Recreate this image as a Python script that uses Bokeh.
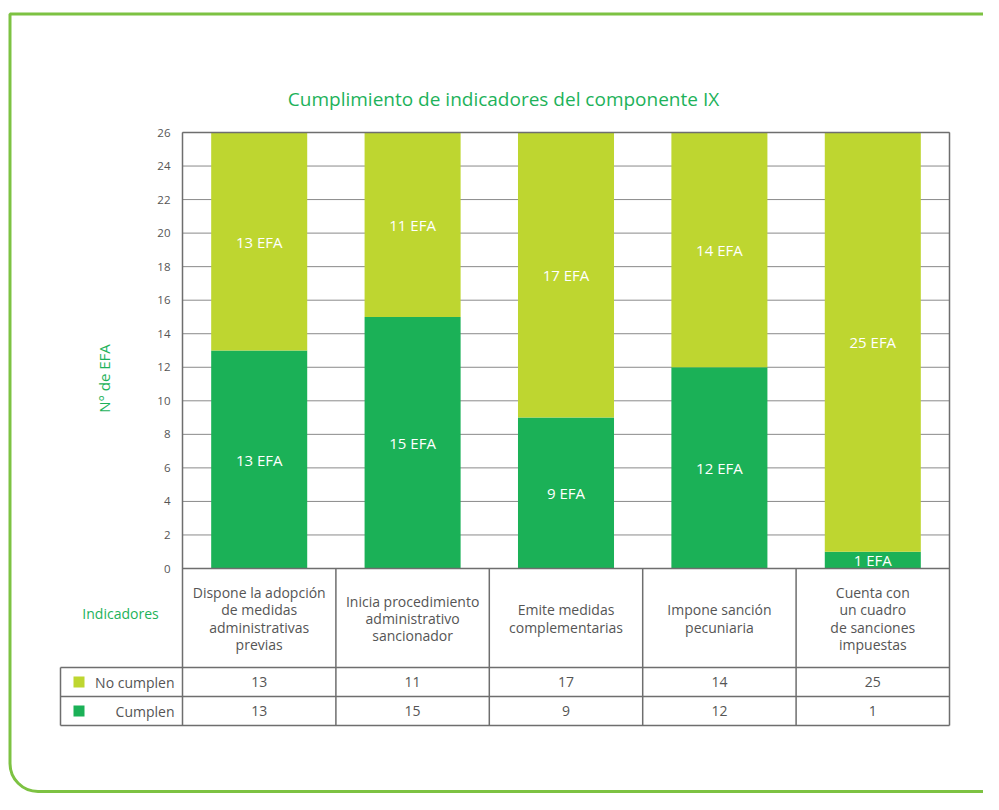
from bokeh.plotting import figure
from bokeh.models import ColumnDataSource, Range1d, BoxAnnotation, Label
from bokeh.core.properties import value
from bokeh.embed import file_html
from bokeh.resources import INLINE
import math

# ---------------- data ----------------
categories = [
    "Dispone la adopción\nde medidas\nadministrativas\nprevias",
    "Inicia procedimiento\nadministrativo\nsancionador",
    "Emite medidas\ncomplementarias",
    "Impone sanción\npecuniaria",
    "Cuenta con\nun cuadro\nde sanciones\nimpuestas",
]
no_cumplen = [13, 11, 17, 14, 25]
cumplen = [13, 15, 9, 12, 1]
series_names = ["No cumplen", "Cumplen"]
y_ticks = list(range(0, 27, 2))
title_text = "Cumplimiento de indicadores del componente IX"
y_label_text = "N° de EFA"
row_header_text = "Indicadores"
unit_suffix = " EFA"

# ---------------- style / layout ----------------
FONT = "Open Sans"
DARK = "#1bb157"
LIGHT = "#bed630"
FRAME_GREEN = "#7dc242"
TITLE_GREEN = "#1db25a"
TEXT_GRAY = "#555555"
LINE_GRAY = "#6e6e6e"
GRID_GRAY = "#8a8a8a"

W, H = 983, 794
N = len(categories)
YMAX = y_ticks[-1]
X0_C, X5_C = 182.0, 949.0          # canvas px of x=0 and x=N
Y0_C, YT_C = 568.0, 132.0          # canvas px of y=0 and y=YMAX
ux = (X5_C - X0_C) / N
uy = (Y0_C - YT_C) / YMAX


def xd(cx):
    return (cx - X0_C) / ux


def yd(cy):
    return (Y0_C - cy) / uy


p = figure(
    width=W, height=H, output_backend="svg", toolbar_location=None,
    x_range=Range1d(xd(0), xd(W)), y_range=Range1d(yd(H), yd(0)),
    x_axis_location=None, y_axis_location=None,
    min_border=0, background_fill_color="white",
    border_fill_color="white", outline_line_color=None,
)
p.xgrid.visible = False
p.ygrid.visible = False

# grid lines of the plot area
p.segment(x0=[0] * len(y_ticks), x1=[N] * len(y_ticks), y0=y_ticks, y1=y_ticks,
          line_color=GRID_GRAY, line_width=1)

# y tick labels
p.text(x=[xd(170)] * len(y_ticks), y=y_ticks, text=[str(t) for t in y_ticks],
       text_align="right", text_baseline="middle", text_color=TEXT_GRAY,
       text_font=value(FONT), text_font_size="11.5px")

xs = [i + 0.5 for i in range(N)]
HDR_B, R1_B, R2_B = 667.0, 696.0, 725.0
src = ColumnDataSource(dict(
    x=xs, cumplen=cumplen, no_cumplen=no_cumplen, cat=categories,
    lab_c=[f"{v}{unit_suffix}" for v in cumplen],
    lab_n=[f"{v}{unit_suffix}" for v in no_cumplen],
    y_c=[v / 2 for v in cumplen],
    y_n=[c + n / 2 for c, n in zip(cumplen, no_cumplen)],
    t_n=[str(v) for v in no_cumplen],
    t_c=[str(v) for v in cumplen],
    y_hdr=[yd(618)] * N,
    y_r1=[yd((HDR_B + R1_B) / 2)] * N,
    y_r2=[yd((R1_B + R2_B) / 2)] * N,
))

p.vbar_stack(["cumplen", "no_cumplen"], x="x", width=0.626, color=[DARK, LIGHT],
             line_color=None, source=src)

for col_y, col_t in [("y_c", "lab_c"), ("y_n", "lab_n")]:
    p.text(x="x", y=col_y, text=col_t, source=src, text_align="center",
           text_baseline="middle", text_color="white", text_font=value(FONT),
           text_font_size="15px")

p.text(x="x", y="y_hdr", text="cat", source=src, text_align="center",
       text_baseline="middle", text_color=TEXT_GRAY, text_font=value(FONT),
       text_font_size="14px", text_line_height=0.92)
p.text(x="x", y="y_r1", text="t_n", source=src, text_align="center",
       text_baseline="middle", text_color=TEXT_GRAY, text_font=value(FONT),
       text_font_size="14px")
p.text(x="x", y="y_r2", text="t_c", source=src, text_align="center",
       text_baseline="middle", text_color=TEXT_GRAY, text_font=value(FONT),
       text_font_size="14px")

# borders / table lines
LEFT_X = xd(60)
hx0 = [0, 0, LEFT_X, LEFT_X, LEFT_X]
hx1 = [N] * 5
hy = [YMAX, 0, yd(HDR_B), yd(R1_B), yd(R2_B)]
p.segment(x0=hx0, y0=hy, x1=hx1, y1=hy, line_color=LINE_GRAY, line_width=1.5)
vx = list(range(N + 1)) + [LEFT_X]
vy0 = [YMAX if i in (0, N) else 0 for i in range(N + 1)] + [yd(HDR_B)]
p.segment(x0=vx, y0=vy0, x1=vx, y1=[yd(R2_B)] * len(vx), line_color=LINE_GRAY,
          line_width=1.5)

# legend rows of the table
row_y = [yd((HDR_B + R1_B) / 2), yd((R1_B + R2_B) / 2)]
p.scatter(x=[xd(78.5)] * 2, y=row_y, marker="square", size=11,
          color=[LIGHT, DARK], line_color=None)
p.text(x=[xd(174)] * 2, y=row_y, text=series_names, text_align="right",
       text_baseline="middle", text_color=TEXT_GRAY, text_font=value(FONT),
       text_font_size="14px")

p.text(x=[xd(120)], y=[yd(613)], text=[row_header_text], text_align="center",
       text_baseline="middle", text_color=TITLE_GREEN, text_font=value(FONT),
       text_font_size="14px")
p.text(x=[xd(103)], y=[yd(378)], text=[y_label_text], angle=math.pi / 2,
       text_align="center", text_baseline="middle", text_color=TITLE_GREEN,
       text_font=value(FONT), text_font_size="15px")

p.add_layout(Label(x=503, y=98, x_units="canvas", y_units="canvas",
                   text=title_text, text_align="center", text_baseline="middle",
                   text_font=FONT, text_font_size="19px", text_color=TITLE_GREEN))

p.add_layout(BoxAnnotation(left=9.5, right=1200, top=13.5, bottom=791,
                           left_units="canvas", right_units="canvas",
                           top_units="canvas", bottom_units="canvas",
                           fill_alpha=0, line_color=FRAME_GREEN, line_alpha=1,
                           line_width=3,
                           border_radius=dict(top_left=0, top_right=0,
                                              bottom_right=0, bottom_left=28)))

open("out.html", "w").write(file_html(p, INLINE))
